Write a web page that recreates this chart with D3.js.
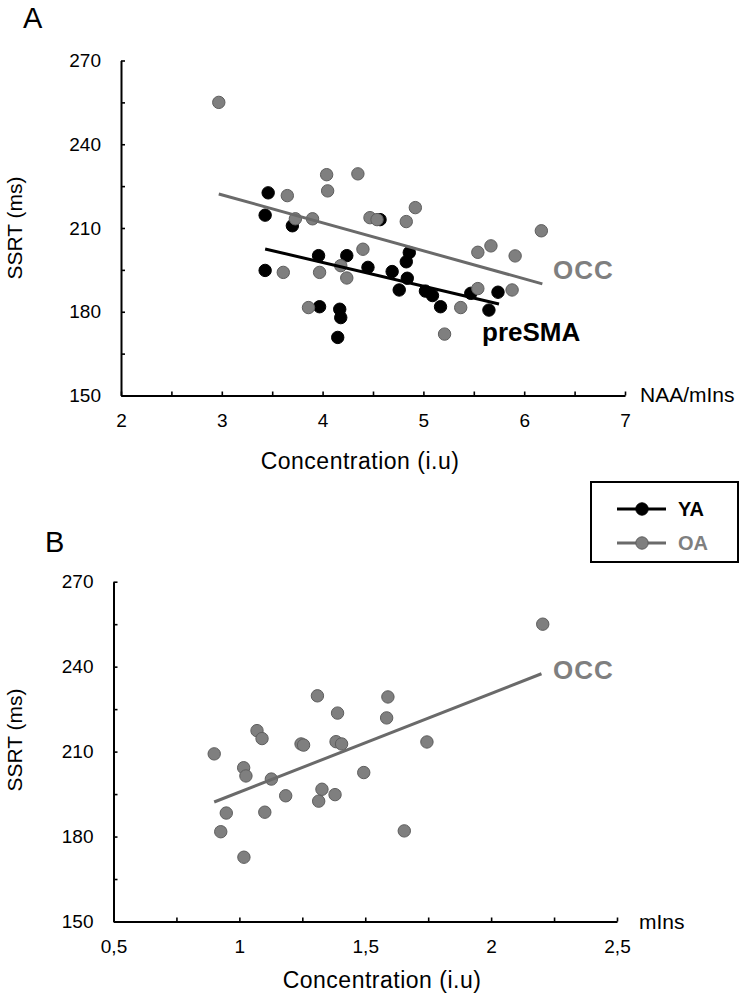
<!DOCTYPE html>
<html>
<head>
<meta charset="utf-8">
<script src="https://cdn.jsdelivr.net/npm/d3@7"></script>
<style>
  html, body { margin: 0; padding: 0; background: #fff; }
  svg { display: block; font-family: "Liberation Sans", Arial, sans-serif; }
</style>
</head>
<body>
<svg id="chart" width="750" height="1004"></svg>
<script>
// ---------- DATA ----------
// Panel A: NAA/mIns concentration vs SSRT
const panelA_YA = [ // young adults (preSMA), [x, y]
  [3.46,222.6],[3.43,214.6],[3.70,210.8],[3.96,200.1],[4.24,200.1],[4.45,195.9],
  [3.43,194.8],[3.97,181.8],[4.17,180.9],[4.18,177.9],[4.15,170.8],[4.57,213.0],
  [4.86,201.2],[4.83,197.9],[4.84,192.0],[4.69,194.4],[4.76,187.8],[5.02,187.4],
  [5.09,185.8],[5.17,181.8],[5.47,186.6],[5.74,187.0],[5.65,180.6]
];
const panelA_OA = [ // older adults (OCC), [x, y]
  [2.97,255.0],[4.04,229.1],[4.35,229.4],[4.05,223.3],[3.65,221.6],[3.73,213.3],
  [3.90,213.3],[4.47,213.7],[4.54,213.0],[4.40,202.4],[4.18,196.5],[3.61,194.1],
  [3.97,194.1],[4.24,192.1],[3.86,181.5],[4.92,217.3],[4.83,212.3],[6.17,209.0],
  [5.54,201.3],[5.67,203.6],[5.91,200.0],[5.54,188.3],[5.88,187.8],[5.37,181.5],
  [5.21,172.0]
];
const fitA_YA = [[3.43,202.5],[5.75,182.8]];
const fitA_OA = [[2.97,222.2],[6.18,190.0]];

// Panel B: mIns concentration vs SSRT (older adults)
const panelB_OA = [
  [0.90,209.2],[1.07,217.4],[1.09,214.6],[1.31,229.7],[1.59,229.3],[1.39,223.6],
  [1.585,221.9],[1.245,212.7],[1.255,212.3],[1.384,213.5],[1.406,212.7],[1.745,213.4],
  [1.017,204.3],[1.026,201.4],[1.127,200.3],[1.494,202.6],[1.184,194.4],[1.328,196.7],
  [1.380,194.8],[1.315,192.5],[0.948,188.3],[1.101,188.6],[0.926,181.7],[1.655,182.0],
  [1.018,172.7],[2.205,255.0]
];
const fitB_OA = [[0.90,192.2],[2.20,237.5]];

// Axes
const yTicks = [150,165,180,195,210,225,240,255,270];
const yLabels = [150,180,210,240,270];
const xTicksA = [2,2.5,3,3.5,4,4.5,5,5.5,6,6.5,7];
const xLabelsA = [2,3,4,5,6,7];
const xTicksB = [0.5,0.75,1,1.25,1.5,1.75,2,2.25,2.5];
const xLabelsB = [0.5,1,1.5,2,2.5];

const legendItems = ["YA","OA"];

// ---------- STYLE ----------
const GRAY = "#7f7f7f", GRAY_STROKE = "#5e5e5e", GRAY_LINE = "#6a6a6a";
const svg = d3.select("#chart");

function axes(g, x, y, xTicks, xLabels, fmt) {
  const ya = d3.axisLeft(y).tickValues(yTicks).tickSize(-4).tickSizeOuter(0).tickPadding(20)
    .tickFormat(d => yLabels.includes(d) ? d : "");
  const yg = g.append("g").attr("transform", `translate(${x.range()[0]},0)`).call(ya);
  const xa = d3.axisBottom(x).tickValues(xTicks).tickSize(-4).tickSizeOuter(0).tickPadding(18)
    .tickFormat(d => xLabels.includes(d) ? fmt(d) : "");
  const xg = g.append("g").attr("transform", `translate(0,${y.range()[0]})`).call(xa);
  [yg, xg].forEach(a => {
    a.select(".domain").attr("stroke", "#000").attr("stroke-width", 2);
    a.selectAll(".tick line").attr("stroke", "#000").attr("stroke-width", 1.6);
    a.selectAll(".tick text").attr("fill", "#000").attr("font-size", 19)
      .attr("font-family", "Liberation Sans, Arial, sans-serif");
  });
}

function points(g, data, x, y, fill, stroke) {
  g.append("g").selectAll("circle").data(data).join("circle")
    .attr("cx", d => x(d[0])).attr("cy", d => y(d[1])).attr("r", 6.2)
    .attr("fill", fill).attr("stroke", stroke).attr("stroke-width", 1);
}
function fitLine(g, data, x, y, color) {
  g.append("path").datum(data)
    .attr("d", d3.line().x(d => x(d[0])).y(d => y(d[1])))
    .attr("stroke", color).attr("stroke-width", 3).attr("fill", "none");
}

// ---------- PANEL A ----------
const xA = d3.scaleLinear([2,7],[121,625]);
const yA = d3.scaleLinear([150,270],[395.5,60.5]);
const gA = svg.append("g");
axes(gA, xA, yA, xTicksA, xLabelsA, d => String(d));
points(gA, panelA_YA, xA, yA, "#000", "#000");
points(gA, panelA_OA, xA, yA, GRAY, GRAY_STROKE);
fitLine(gA, fitA_OA, xA, yA, GRAY_LINE);
fitLine(gA, fitA_YA, xA, yA, "#000");

gA.append("text").attr("x", 23).attr("y", 28).attr("font-size", 29).text("A");
gA.append("text").attr("transform", `translate(22,228) rotate(-90)`).attr("text-anchor", "middle")
  .attr("font-size", 21).text("SSRT (ms)");
gA.append("text").attr("x", 360).attr("y", 469).attr("text-anchor", "middle")
  .attr("font-size", 23).attr("letter-spacing", 0.5).text("Concentration (i.u)");
gA.append("text").attr("x", 640).attr("y", 402).attr("font-size", 21).text("NAA/mIns");
gA.append("text").attr("x", 553).attr("y", 279).attr("font-size", 26).attr("font-weight", "bold")
  .attr("letter-spacing", 1).attr("fill", GRAY).text("OCC");
gA.append("text").attr("x", 482).attr("y", 341).attr("font-size", 26).attr("font-weight", "bold")
  .attr("fill", "#000").text("preSMA");

// ---------- LEGEND ----------
const lg = svg.append("g");
lg.append("rect").attr("x", 591).attr("y", 482).attr("width", 147).attr("height", 80)
  .attr("fill", "#fff").attr("stroke", "#000").attr("stroke-width", 2);
legendItems.forEach((name, i) => {
  const cy = 509 + i * 34, col = i === 0 ? "#000" : GRAY;
  lg.append("line").attr("x1", 617).attr("x2", 666).attr("y1", cy).attr("y2", cy)
    .attr("stroke", i === 0 ? "#000" : GRAY_LINE).attr("stroke-width", 3);
  lg.append("circle").attr("cx", 642).attr("cy", cy).attr("r", 6.2)
    .attr("fill", col).attr("stroke", i === 0 ? "#000" : GRAY_STROKE);
  lg.append("text").attr("x", 678).attr("y", cy + 7).attr("font-size", 20).attr("font-weight", "bold")
    .attr("fill", col).text(name);
});

// ---------- PANEL B ----------
const xB = d3.scaleLinear([0.5,2.5],[113.5,617]);
const yB = d3.scaleLinear([150,270],[921.5,581.7]);
const gB = svg.append("g");
axes(gB, xB, yB, xTicksB, xLabelsB, d => String(d).replace(".", ","));
points(gB, panelB_OA, xB, yB, GRAY, GRAY_STROKE);
fitLine(gB, fitB_OA, xB, yB, GRAY_LINE);

gB.append("text").attr("x", 45).attr("y", 552).attr("font-size", 29).text("B");
gB.append("text").attr("transform", `translate(22,740) rotate(-90)`).attr("text-anchor", "middle")
  .attr("font-size", 21).text("SSRT (ms)");
gB.append("text").attr("x", 382).attr("y", 988).attr("text-anchor", "middle")
  .attr("font-size", 23).attr("letter-spacing", 0.5).text("Concentration (i.u)");
gB.append("text").attr("x", 639).attr("y", 929).attr("font-size", 21).text("mIns");
gB.append("text").attr("x", 553).attr("y", 679).attr("font-size", 26).attr("font-weight", "bold")
  .attr("letter-spacing", 1).attr("fill", GRAY).text("OCC");
</script>
</body>
</html>
